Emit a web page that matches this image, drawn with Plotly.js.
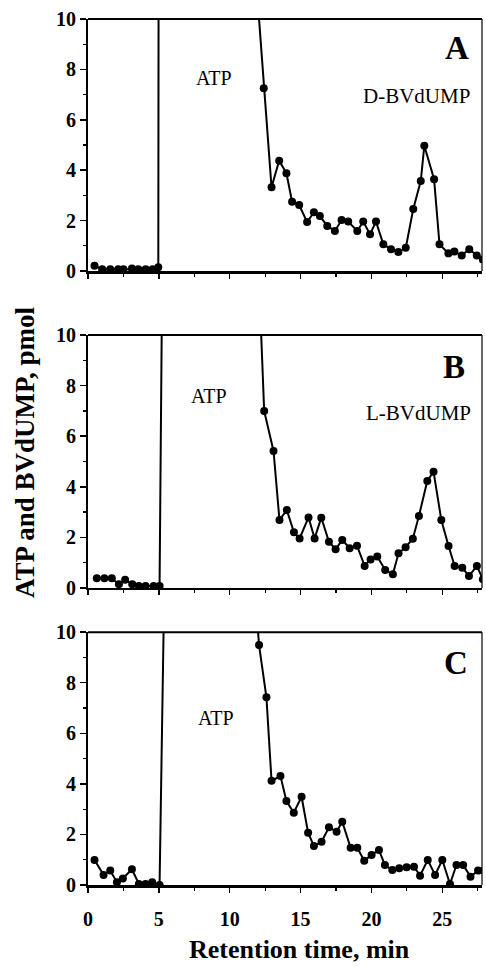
<!DOCTYPE html>
<html>
<head>
<meta charset="utf-8">
<script src="https://cdn.plot.ly/plotly-3.0.1.min.js"></script>
<style>html,body{margin:0;padding:0;background:#fff;}#chart{width:486px;height:967px;}</style>
</head>
<body>
<div id="chart"></div>
<script>
// Panel A (D-BVdUMP); ATP peak values between 5 and 12 min are off scale
const timeA = [0.46,1.0,1.57,2.13,2.5,3.1,3.55,4.07,4.56,4.96,5.5,11.5,12.4,12.95,13.49,14.0,14.4,14.9,15.46,15.94,16.36,16.88,17.42,17.89,18.36,19.0,19.42,19.9,20.32,20.84,21.38,21.9,22.42,22.95,23.48,23.73,24.42,24.8,25.43,25.85,26.37,26.9,27.43,27.86];
const valA  = [0.21,0.07,0.07,0.07,0.07,0.1,0.07,0.07,0.07,0.15,300,14.3,7.25,3.32,4.38,3.88,2.75,2.62,1.94,2.33,2.18,1.79,1.59,2.02,1.96,1.59,1.96,1.46,1.96,1.06,0.86,0.75,0.92,2.46,3.57,4.97,3.64,1.06,0.70,0.77,0.62,0.86,0.62,0.46];
// Panel B (L-BVdUMP)
const timeB = [0.62,1.16,1.68,2.18,2.62,3.12,3.59,4.06,4.63,5.05,5.5,11.5,12.43,13.09,13.51,14.03,14.53,14.93,15.56,15.99,16.46,17.0,17.47,17.94,18.46,18.98,19.52,19.94,20.41,20.97,21.51,21.91,22.41,22.92,23.35,23.94,24.38,24.93,25.44,25.87,26.41,26.88,27.44,27.86];
const valB  = [0.38,0.38,0.38,0.15,0.32,0.15,0.08,0.08,0.08,0.08,30,20.3,7.0,5.42,2.69,3.08,2.2,1.96,2.79,1.96,2.78,1.83,1.53,1.9,1.57,1.67,0.87,1.13,1.24,0.71,0.54,1.37,1.61,1.95,2.85,4.23,4.6,2.69,1.66,0.87,0.8,0.47,0.87,0.34];
// Panel C (control)
const timeC = [0.46,1.1,1.57,2.04,2.46,3.1,3.59,4.06,4.53,5.05,5.5,11.5,12.07,12.59,12.95,13.58,14.0,14.52,15.07,15.53,15.94,16.48,17.0,17.54,17.94,18.53,19.0,19.49,20.01,20.53,20.95,21.47,21.96,22.48,23.0,23.43,23.97,24.49,25.0,25.54,26.0,26.47,26.99,27.52,27.93];
const valC  = [0.99,0.4,0.57,0.11,0.26,0.62,0.04,0.04,0.11,0.0,16,13.65,9.49,7.42,4.12,4.31,3.32,2.86,3.49,2.07,1.54,1.71,2.28,2.11,2.5,1.47,1.47,0.96,1.19,1.38,0.79,0.59,0.66,0.7,0.72,0.37,0.99,0.4,0.99,0.04,0.79,0.79,0.33,0.57,0.57];

const xTickVals = [0,5,10,15,20,25];
const xTickText = ['0','5','10','15','20','25'];
const yTickVals = [0,2,4,6,8,10];
const yTickText = ['0','2','4','6','8','10'];

const panelLetters = ['A','B','C'];
const compoundLabels = ['D-BVdUMP','L-BVdUMP',''];
const peakLabel = 'ATP';
const xTitle = 'Retention time, min';
const yTitle = 'ATP and BVdUMP, pmol';

const serif = 'Liberation Serif, Times New Roman, serif';
const bold = function(s){ return '<b>' + s + '</b>'; };
function tr(x, y, xa, ya){
  return {x:x, y:y, xaxis:xa, yaxis:ya, type:'scatter', mode:'lines+markers',
    line:{color:'#000', width:2}, marker:{color:'#000', size:8}, cliponaxis:true, hoverinfo:'skip'};
}
const data = [tr(timeA,valA,'x3','y3'), tr(timeB,valB,'x2','y2'), tr(timeC,valC,'x','y')];

function xax(anchor, labels){
  return {anchor:anchor, range:[0,27.8], tickmode:'array', tickvals:xTickVals, ticktext:xTickText.map(bold),
    ticks:'outside', ticklen:5, tickwidth:1.5,
    tickcolor:'#000', showticklabels:labels, showgrid:false, zeroline:false, showline:true, linewidth:2.5,
    linecolor:'#000', ticklabelstandoff:9,
    minor:{dtick:2.5, tick0:0, ticks:'outside', ticklen:3, tickwidth:1.2, tickcolor:'#000', showgrid:false},
    tickfont:{family:serif, size:20, color:'#000'}, fixedrange:true};
}
function yax(anchor, dom){
  return {anchor:anchor, domain:dom, range:[0,10], tickmode:'array', tickvals:yTickVals, ticktext:yTickText.map(bold),
    ticks:'outside', ticklen:6, tickwidth:1.5,
    tickcolor:'#000', showgrid:false, zeroline:false, showline:true, linewidth:2, linecolor:'#000',
    minor:{dtick:1, tick0:0, ticks:'outside', ticklen:3, tickwidth:1.2, tickcolor:'#000', showgrid:false},
    tickfont:{family:serif, size:20, color:'#000'}, fixedrange:true};
}
const doms = {A:[0.709,1], B:[0.343,0.635], C:[0,0.292]};

const ann = [];
const shapes = [];
const axes = [['x3','y3',doms.A],['x2','y2',doms.B],['x','y',doms.C]];
const letterPos = [[26.04,8.85],[25.83,8.74],[25.97,8.77]];
const compPos = [[23.18,6.96],[23.29,6.9],null];
const atpPos = [[8.86,7.66],[8.54,7.59],[9.03,6.6]];
axes.forEach(function(a,i){
  ann.push({xref:a[0], yref:a[1], x:letterPos[i][0], y:letterPos[i][1], text:bold(panelLetters[i]), showarrow:false,
    xanchor:'center', yanchor:'middle', font:{family:serif, size:33, color:'#000'}});
  ann.push({xref:a[0], yref:a[1], x:atpPos[i][0], y:atpPos[i][1], text:peakLabel, showarrow:false,
    xanchor:'center', yanchor:'middle', font:{family:serif, size:20, color:'#000'}});
  if(compoundLabels[i]) ann.push({xref:a[0], yref:a[1], x:compPos[i][0], y:compPos[i][1], text:compoundLabels[i], showarrow:false,
    xanchor:'center', yanchor:'middle', font:{family:serif, size:21, color:'#000'}});
  shapes.push({type:'line', xref:a[0]+' domain', yref:a[1]+' domain', x0:0, x1:1, y0:1, y1:1, line:{color:'#000', width:2}});
  shapes.push({type:'line', xref:a[0]+' domain', yref:a[1]+' domain', x0:1, x1:1, y0:0, y1:1, line:{color:'#000', width:1.2}});
});
ann.push({xref:'paper', yref:'paper', x:-0.16, y:0.5, xanchor:'center', yanchor:'middle', text:bold(yTitle), textangle:-90, showarrow:false,
  font:{family:serif, size:27, color:'#000'}});
ann.push({xref:'paper', yref:'paper', x:0.536, y:-0.075, xanchor:'center', yanchor:'middle', text:bold(xTitle), showarrow:false,
  font:{family:serif, size:26, color:'#000'}});

const layout = {
  width:486, height:967, margin:{l:88, r:4, t:19, b:82}, showlegend:false,
  paper_bgcolor:'#fff', plot_bgcolor:'#fff',
  xaxis:xax('y', true), xaxis2:xax('y2', false), xaxis3:xax('y3', false),
  yaxis:yax('x', doms.C), yaxis2:yax('x2', doms.B), yaxis3:yax('x3', doms.A),
  annotations:ann, shapes:shapes
};
Plotly.newPlot('chart', data, layout, {displayModeBar:false, staticPlot:true});
</script>
</body>
</html>
